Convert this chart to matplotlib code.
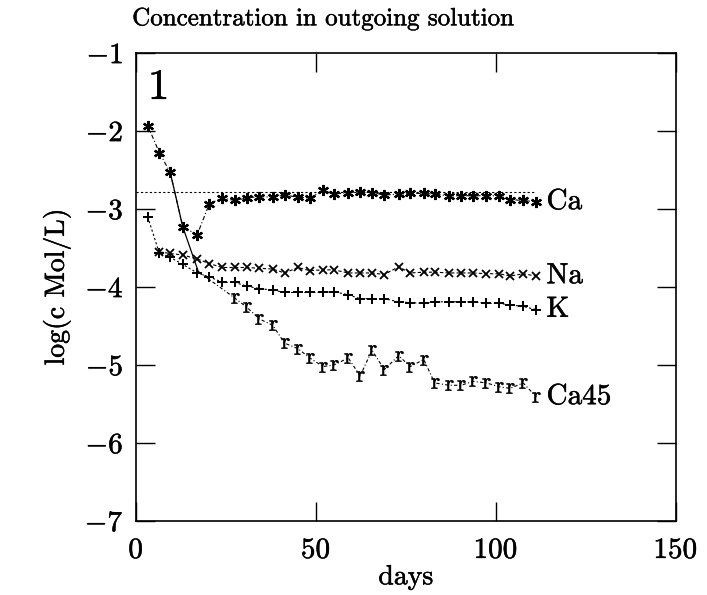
import matplotlib
matplotlib.use("Agg")
import matplotlib.pyplot as plt
import matplotlib.patheffects as pe

plt.rcParams['font.family'] = ['cmr10', 'DejaVu Serif']
plt.rcParams['mathtext.fontset'] = 'cm'
plt.rcParams['axes.unicode_minus'] = False

days = [3.25, 6.5, 9.5, 13, 17, 20.4, 24, 27.4, 30.8, 34.3, 38, 41.3, 45, 48.3,
        52, 55, 59, 62.3, 65.6, 69, 73, 76.2, 80, 83, 87, 90.3, 93.8, 97.4,
        101, 104, 107.6, 111.3]

ca = [-1.93, -2.28, -2.53, -3.23, -3.33, -2.93, -2.86, -2.89, -2.86, -2.84,
      -2.85, -2.82, -2.85, -2.86, -2.76, -2.81, -2.79, -2.78, -2.79, -2.82,
      -2.81, -2.80, -2.80, -2.81, -2.83, -2.83, -2.83, -2.83, -2.83, -2.88,
      -2.89, -2.91]

na_days = days[1:]
na = [-3.55, -3.57, -3.59, -3.64, -3.70, -3.75, -3.75, -3.75, -3.76, -3.77,
      -3.82, -3.75, -3.79, -3.78, -3.78, -3.82, -3.82, -3.82, -3.84, -3.74,
      -3.82, -3.81, -3.81, -3.82, -3.82, -3.82, -3.83, -3.83, -3.86, -3.83,
      -3.86]

k = [-3.10, -3.57, -3.62, -3.71, -3.82, -3.87, -3.94, -3.94, -3.99, -4.02,
     -4.04, -4.07, -4.07, -4.07, -4.07, -4.06, -4.10, -4.15, -4.15, -4.15,
     -4.19, -4.20, -4.21, -4.19, -4.19, -4.19, -4.19, -4.21, -4.21, -4.23,
     -4.25, -4.29]

ca45_days = [9.5, 13, 17.3, 27.4, 30.8, 34.3, 38, 41.3, 45, 48.3, 52, 55, 59,
             62.3, 65.6, 69, 73, 76.2, 80, 83, 87, 90.3, 93.8, 97.4, 101, 104,
             107.6, 111.3]
ca45 = [-2.53, -3.23, -3.80, -4.14, -4.26, -4.41, -4.49, -4.72, -4.79, -4.91,
        -5.02, -5.00, -4.91, -5.14, -4.81, -5.06, -4.88, -5.02, -4.93, -5.23,
        -5.26, -5.26, -5.21, -5.23, -5.28, -5.30, -5.23, -5.41]

ref_level = -2.78
ref_span = [0, 111]

series_names = ['Ca', 'Na', 'K', 'Ca45']
xticks = [0, 50, 100, 150]
yticks = [-1, -2, -3, -4, -5, -6, -7]

fig = plt.figure(figsize=(7.07, 5.95), dpi=100)
ax = fig.add_axes([0.1924, 0.1244, 0.7633, 0.7865])

bold = [pe.withStroke(linewidth=0.35, foreground='black')]

lw = 0.8
ax.plot(ref_span, [ref_level, ref_level], color='black', lw=0.8, ls=(0, (2, 2)))
ax.plot(days, ca, color='black', lw=lw, ls=(0, (4, 2, 1, 2)),
        marker=(6, 2, 0), ms=8, mew=1.6)
ax.plot(na_days, na, color='black', lw=lw, ls=(0, (3, 2)),
        marker='x', ms=5.5, mew=1.3)
ax.plot(days, k, color='black', lw=lw, ls=(0, (2, 2)),
        marker='+', ms=7, mew=1.4)
ax.plot(ca45_days[:3], ca45[:3], color='black', lw=0.9, ls='-')
ax.plot(ca45_days[2:], ca45[2:], color='black', lw=lw, ls=(0, (3, 2, 1, 2)))
ax.plot(ca45_days[3:], ca45[3:], ls='none', color='black',
        marker=r'$\mathrm{r}$', ms=7.5, mew=0.4)

lab_fs = 21
for name, yv in zip(series_names, [ca[-1], na[-1], k[-1], ca45[-1]]):
    ax.text(111.3 + 2.8, yv, name, fontsize=lab_fs, va='center', ha='left',
            path_effects=bold)

ax.text(0.022, 0.965, '1', transform=ax.transAxes, fontsize=31, va='top',
        ha='left', path_effects=bold)

ax.set_xlim(0, 150)
ax.set_ylim(-7, -1)
ax.set_xticks(xticks)
ax.set_xticklabels(['$%d$' % v for v in xticks], fontsize=21)
ax.set_yticks(yticks)
ax.set_yticklabels(['$%d$' % v for v in yticks], fontsize=21)
for t in ax.get_xticklabels() + ax.get_yticklabels():
    t.set_path_effects(bold)
ax.tick_params(direction='in', length=14, width=1, top=True, right=True)
ax.tick_params(axis='x', pad=12)
ax.tick_params(axis='y', pad=9)
for s in ax.spines.values():
    s.set_linewidth(1.2)

ax.set_xlabel('days', fontsize=20, labelpad=0, path_effects=bold)
ax.set_ylabel('log(c Mol/L)', fontsize=20, labelpad=10, path_effects=bold)
fig.text(0.187, 0.968, 'Concentration in outgoing solution', fontsize=18,
         va='center', ha='left', path_effects=bold)

fig.savefig('out.png', dpi=100)
